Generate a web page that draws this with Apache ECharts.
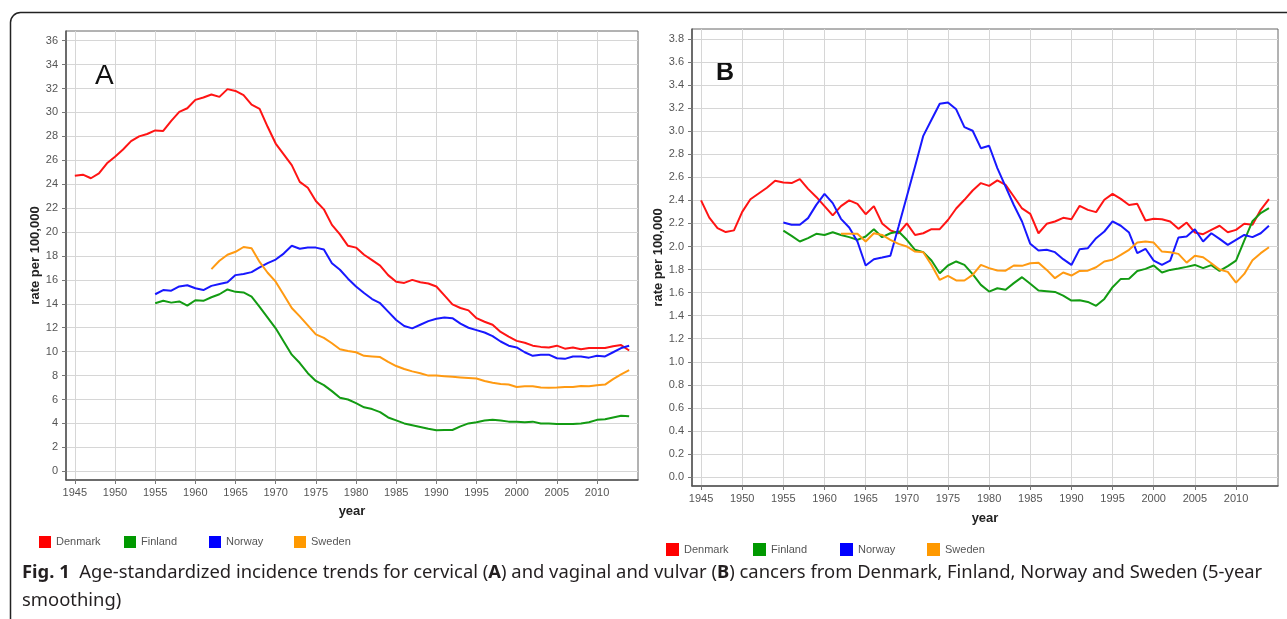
<!DOCTYPE html>
<html>
<head>
<meta charset="utf-8">
<script src="https://cdn.jsdelivr.net/npm/echarts@6/dist/echarts.min.js"></script>
<style>
html,body{margin:0;padding:0;background:#fff;}
#chart{width:1287px;height:619px;}
</style>
</head>
<body>
<div id="chart"></div>
<script>
// ---------- DATA ----------
const countries = ['Denmark', 'Finland', 'Norway', 'Sweden'];
const startYears = {Denmark: 1945, Finland: 1955, Norway: 1955, Sweden: 1962};
const xTickYears = [1945, 1950, 1955, 1960, 1965, 1970, 1975, 1980, 1985, 1990, 1995, 2000, 2005, 2010];
const yTicksA = [0, 2, 4, 6, 8, 10, 12, 14, 16, 18, 20, 22, 24, 26, 28, 30, 32, 34, 36];
const yTicksB = [0.0, 0.2, 0.4, 0.6, 0.8, 1.0, 1.2, 1.4, 1.6, 1.8, 2.0, 2.2, 2.4, 2.6, 2.8, 3.0, 3.2, 3.4, 3.6, 3.8];

// Panel A: cervical cancer, rate per 100,000
const denmarkA = [24.7, 24.8, 24.5, 24.9, 25.75, 26.3, 26.9, 27.6, 28.0, 28.2,
  28.5, 28.45, 29.3, 30.05, 30.35, 31.05, 31.25, 31.5, 31.3, 31.95,
  31.8, 31.45, 30.65, 30.3, 28.8, 27.4, 26.5, 25.6, 24.2, 23.7,
  22.6, 21.9, 20.6, 19.8, 18.85, 18.7, 18.1, 17.65, 17.2, 16.4,
  15.85, 15.75, 16.0, 15.8, 15.7, 15.45, 14.7, 13.95, 13.65, 13.45,
  12.8, 12.5, 12.25, 11.65, 11.25, 10.9, 10.75, 10.5, 10.4, 10.35,
  10.5, 10.25, 10.35, 10.2, 10.3, 10.3, 10.3, 10.45, 10.55, 10.1];
const finlandA = [14.05, 14.25, 14.1, 14.2, 13.85, 14.3, 14.25, 14.55, 14.8, 15.2,
  15.0, 14.95, 14.6, 13.75, 12.85, 11.95, 10.85, 9.75, 9.05, 8.2,
  7.55, 7.2, 6.7, 6.15, 6.0, 5.7, 5.35, 5.2, 4.95, 4.5,
  4.25, 4.0, 3.85, 3.7, 3.55, 3.43, 3.45, 3.45, 3.75, 4.0,
  4.1, 4.25, 4.3, 4.25, 4.15, 4.15, 4.1, 4.15, 4.0, 4.0,
  3.95, 3.95, 3.95, 4.0, 4.1, 4.3, 4.35, 4.5, 4.65, 4.6];
const norwayA = [14.8, 15.15, 15.1, 15.45, 15.55, 15.3, 15.15, 15.5, 15.65, 15.8,
  16.4, 16.5, 16.65, 17.05, 17.4, 17.7, 18.2, 18.85, 18.6, 18.7,
  18.7, 18.55, 17.4, 16.85, 16.1, 15.45, 14.9, 14.4, 14.05, 13.35,
  12.65, 12.15, 11.95, 12.25, 12.55, 12.75, 12.85, 12.8, 12.35, 12.0,
  11.8, 11.6, 11.3, 10.85, 10.5, 10.35, 9.95, 9.65, 9.75, 9.75,
  9.45, 9.4, 9.6, 9.6, 9.5, 9.65, 9.6, 9.95, 10.3, 10.5];
const swedenA = [16.9, 17.6, 18.1, 18.35, 18.75, 18.65, 17.5, 16.6,
  15.85, 14.75, 13.65, 12.95, 12.2, 11.45, 11.15, 10.7, 10.2, 10.05,
  9.95, 9.65, 9.6, 9.55, 9.15, 8.8, 8.55, 8.35, 8.2, 8.0,
  8.0, 7.95, 7.9, 7.85, 7.8, 7.75, 7.55, 7.4, 7.3, 7.25,
  7.05, 7.1, 7.1, 7.0, 6.98, 7.0, 7.05, 7.05, 7.12, 7.1,
  7.2, 7.25, 7.7, 8.1, 8.45];

// Panel B: vaginal and vulvar cancer, rate per 100,000
const denmarkB = [2.40, 2.25, 2.16, 2.125, 2.14, 2.30, 2.41, 2.46, 2.51, 2.57,
  2.555, 2.55, 2.585, 2.50, 2.43, 2.35, 2.27, 2.35, 2.40, 2.37,
  2.28, 2.35, 2.20, 2.14, 2.115, 2.20, 2.10, 2.115, 2.15, 2.15,
  2.23, 2.33, 2.405, 2.486, 2.55, 2.526, 2.573, 2.535, 2.434, 2.33,
  2.283, 2.115, 2.197, 2.217, 2.249, 2.237, 2.353, 2.318, 2.298, 2.405,
  2.457, 2.413, 2.36, 2.37, 2.225, 2.24, 2.237, 2.217, 2.153, 2.208,
  2.121, 2.107, 2.144, 2.18, 2.124, 2.144, 2.197, 2.188, 2.318, 2.41];
const finlandB = [2.138, 2.092, 2.043, 2.072, 2.11, 2.10, 2.124, 2.10, 2.081, 2.058,
  2.087, 2.15, 2.081, 2.115, 2.13, 2.058, 1.971, 1.951, 1.878, 1.768,
  1.835, 1.87, 1.84, 1.76, 1.667, 1.609, 1.638, 1.624, 1.682, 1.734,
  1.676, 1.618, 1.612, 1.606, 1.574, 1.531, 1.534, 1.519, 1.485, 1.545,
  1.647, 1.719, 1.721, 1.788, 1.806, 1.835, 1.774, 1.797, 1.809, 1.823,
  1.84, 1.812, 1.838, 1.788, 1.83, 1.878, 2.05, 2.22, 2.29, 2.333];
const norwayB = [2.208, 2.188, 2.188, 2.246, 2.361, 2.457, 2.376, 2.24, 2.165, 2.043,
  1.835, 1.89, 1.904, 1.92, 2.173, 2.434, 2.694, 2.96, 3.10, 3.238,
  3.25, 3.19, 3.036, 3.004, 2.853, 2.874, 2.68, 2.52, 2.36, 2.217,
  2.023, 1.965, 1.971, 1.951, 1.89, 1.84, 1.977, 1.985, 2.072, 2.13,
  2.217, 2.18, 2.121, 1.942, 1.98, 1.878, 1.84, 1.878, 2.078, 2.087,
  2.15, 2.043, 2.115, 2.066, 2.014, 2.058, 2.10, 2.081, 2.115, 2.18];
const swedenB = [2.11, 2.11, 2.11, 2.043, 2.115, 2.10, 2.058, 2.023,
  2.0, 1.956, 1.95, 1.84, 1.71, 1.745, 1.705, 1.705, 1.754, 1.84,
  1.812, 1.791, 1.79, 1.835, 1.832, 1.855, 1.86, 1.797, 1.725, 1.774,
  1.748, 1.788, 1.79, 1.82, 1.87, 1.885, 1.927, 1.971, 2.034, 2.043,
  2.034, 1.956, 1.95, 1.936, 1.86, 1.92, 1.907, 1.855, 1.80, 1.78,
  1.687, 1.762, 1.88, 1.942, 1.994];

const captionLine1 = 'Age-standardized incidence trends for cervical ({b|A}) and vaginal and vulvar ({b|B}) cancers from Denmark, Finland, Norway and Sweden (5-year';
const captionLine2 = 'smoothing)';

// ---------- BUILD ----------
const colors = {Denmark: '#ff1414', Finland: '#139b13', Norway: '#1818ff', Sweden: '#ff9a12'};
const legendColors = {Denmark: '#ff0000', Finland: '#009900', Norway: '#0000ff', Sweden: '#ff9900'};
const panelA = {Denmark: denmarkA, Finland: finlandA, Norway: norwayA, Sweden: swedenA};
const panelB = {Denmark: denmarkB, Finland: finlandB, Norway: norwayB, Sweden: swedenB};

function pairs(name, values) {
  const s = startYears[name];
  return values.map((v, i) => [s + i, v]);
}

const tickFont = {fontFamily: 'Liberation Sans', fontSize: 11, color: '#555'};
const nameFont = {fontFamily: 'Liberation Sans', fontSize: 13, fontWeight: 'bold', color: '#222'};

function xAxis(gridIndex, nameGap) {
  return {
    type: 'value', gridIndex: gridIndex, min: 1943.9, max: 2015.1,
    name: 'year', nameLocation: 'middle', nameGap: nameGap, nameTextStyle: nameFont,
    axisLine: {show: true, onZero: false, lineStyle: {color: '#555', width: 1.5}},
    axisTick: {show: true, length: 4, lineStyle: {color: '#777'}, customValues: xTickYears},
    axisLabel: Object.assign({margin: 7, customValues: xTickYears, formatter: v => String(v)}, tickFont),
    splitLine: {show: true, lineStyle: {color: '#d6d6d6', width: 1}}
  };
}
function yAxis(gridIndex, min, max, ticks, dec, nameGap) {
  return {
    type: 'value', gridIndex: gridIndex, min: min, max: max,
    name: 'rate per 100,000', nameLocation: 'middle', nameGap: nameGap, nameTextStyle: nameFont,
    axisLine: {show: true, onZero: false, lineStyle: {color: '#555', width: 1.5}},
    axisTick: {show: true, length: 4, lineStyle: {color: '#777'}, customValues: ticks},
    axisLabel: Object.assign({margin: 8, customValues: ticks, formatter: v => Number(v).toFixed(dec)}, tickFont),
    splitLine: {show: true, lineStyle: {color: '#d6d6d6', width: 1}}
  };
}

const series = [];
[[panelA, 0], [panelB, 1]].forEach(([panel, idx]) => {
  countries.forEach(c => {
    series.push({
      name: c, type: 'line', xAxisIndex: idx, yAxisIndex: idx,
      data: pairs(c, panel[c]), showSymbol: false, symbol: 'none',
      lineStyle: {color: colors[c], width: 2}, itemStyle: {color: legendColors[c]},
      emphasis: {disabled: true}, animation: false
    });
  });
});

// one legend component per entry, laid out in fixed-width cells
function legendRow(left, top, cell, size) {
  return countries.map((c, i) => ({
    left: left + i * cell, top: top, orient: 'horizontal', icon: 'rect',
    itemWidth: size, itemHeight: size, selectedMode: false, padding: 0,
    data: [{name: c, itemStyle: {color: legendColors[c]}}],
    textStyle: {fontFamily: 'Liberation Sans', fontSize: 11, color: '#555'}
  }));
}

// caption font fit
const capFamily = 'Noto Sans';
const cv = document.createElement('canvas').getContext('2d');
cv.font = '100px "' + capFamily + '"';
const plain = captionLine1.replace(/\{b\|(.*?)\}/g, '$1');
let w100 = cv.measureText(plain).width;
cv.font = 'bold 100px "' + capFamily + '"';
w100 += cv.measureText('Fig. 1  ').width;
const capSize = Math.max(12, Math.min(19, 100 * 1240 / w100));

const chart = echarts.init(document.getElementById('chart'), null, {renderer: 'canvas'});
chart.setOption({
  animation: false,
  backgroundColor: '#fff',
  grid: [
    {left: 66, top: 31, width: 572, height: 449, show: true, borderColor: '#666', borderWidth: 1, containLabel: false},
    {left: 692, top: 29, width: 586, height: 457, show: true, borderColor: '#666', borderWidth: 1, containLabel: false}
  ],
  xAxis: [xAxis(0, 25), xAxis(1, 26)],
  yAxis: [yAxis(0, -0.73, 36.81, yTicksA, 0, 24), yAxis(1, -0.078, 3.887, yTicksB, 1, 27)],
  legend: legendRow(39, 536, 85, 12).concat(legendRow(666, 543, 87, 13)),
  series: series,
  graphic: [
    {type: 'rect', silent: true, shape: {x: 10.5, y: 12.5, width: 1320, height: 700, r: 10},
     style: {fill: 'none', stroke: '#222', lineWidth: 1.5}},
    {type: 'text', left: 95, top: 62, silent: true,
     style: {text: 'A', fontFamily: 'Liberation Sans', fontSize: 28, fill: '#111'}},
    {type: 'text', left: 716, top: 61, silent: true,
     style: {text: 'B', fontFamily: 'Liberation Sans', fontSize: 25, fontWeight: 'bold', fill: '#111'}},
    {type: 'text', left: 22, top: 564, silent: true,
     style: {
       text: '{b|Fig. 1}  ' + captionLine1,
       fontFamily: capFamily, fontSize: capSize, fill: '#231f20',
       rich: {b: {fontFamily: capFamily, fontSize: capSize, fontWeight: 'bold', fill: '#231f20'}}
     }},
    {type: 'text', left: 22, top: 592, silent: true,
     style: {text: captionLine2, fontFamily: capFamily, fontSize: capSize, fill: '#231f20'}}
  ]
});
</script>
</body>
</html>
